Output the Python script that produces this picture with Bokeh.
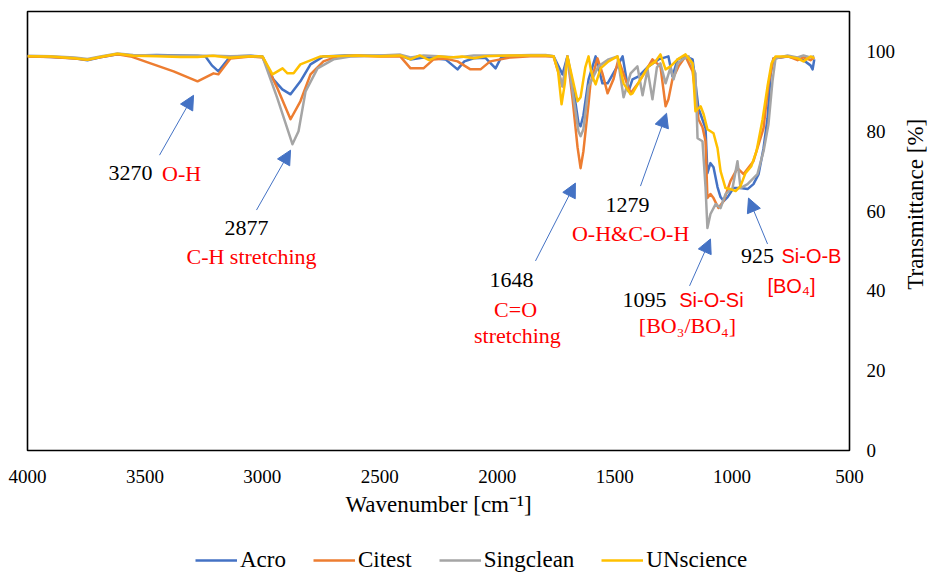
import math
from bokeh.plotting import figure
from bokeh.layouts import column, row
from bokeh.models import (Range1d, FixedTicker, Legend, LegendItem, Arrow,
                          NormalHead, ColumnDataSource)
from bokeh.core.properties import value
from bokeh.embed import file_html
from bokeh.resources import INLINE

# ---------------- data ----------------
acro_wn = [4000, 3900, 3800, 3745, 3690, 3617, 3550, 3450, 3350, 3276, 3242, 3215, 3187, 3160, 3136,
           3050, 2999, 2953, 2915, 2880, 2838, 2795, 2740, 2650, 2500, 2412, 2369, 2314, 2271, 2220,
           2169, 2140, 2100, 2050, 2007, 1985, 1943, 1858, 1794, 1760, 1741, 1722, 1701, 1679, 1654,
           1645, 1633, 1611, 1581, 1552, 1530, 1496, 1466, 1441, 1424, 1398, 1356, 1313, 1271, 1254,
           1232, 1198, 1168, 1143, 1113, 1105, 1092, 1079, 1062, 1049, 1036, 1019, 994, 964, 934,
           909, 887, 866, 849, 836, 824, 764, 721, 696, 666, 657, 650]
acro_t = [98.8, 98.6, 98.3, 97.8, 98.5, 99.3, 99.0, 99.1, 99.0, 98.9, 98.7, 96.5, 95.0, 97.0, 98.75,
          98.9, 98.7, 93.0, 90.5, 89.25, 92.5, 96.75, 98.75, 99.0, 98.9, 98.9, 98.0, 98.5, 98.3, 98.0,
          95.5, 97.5, 98.3, 98.4, 95.75, 98.3, 98.8, 99.0, 98.9, 98.8, 96.5, 94.25, 98.75, 92.0, 82.0,
          81.25, 84.0, 93.0, 98.75, 92.0, 92.0, 95.5, 98.75, 90.0, 93.0, 93.75, 96.25, 98.0, 98.75, 93.75,
          98.0, 98.75, 98.0, 85.75, 80.75, 69.5, 72.0, 71.0, 66.0, 63.5, 62.5, 63.5, 65.75, 65.75, 65.5,
          66.75, 69.25, 75.75, 83.25, 94.25, 98.25, 98.75, 98.3, 97.8, 96.5, 95.5, 98.0]

citest_wn = [4000, 3900, 3800, 3745, 3690, 3617, 3561, 3476, 3378, 3276, 3208, 3187, 3136, 3050, 2999,
             2936, 2880, 2838, 2795, 2740, 2680, 2600, 2500, 2412, 2369, 2314, 2271, 2220, 2169, 2114,
             2071, 2030, 1943, 1858, 1794, 1760, 1741, 1722, 1701, 1679, 1658, 1645, 1633, 1611, 1603,
             1573, 1552, 1530, 1505, 1484, 1454, 1432, 1400, 1369, 1339, 1305, 1283, 1271, 1254, 1228,
             1198, 1168, 1143, 1126, 1113, 1105, 1092, 1079, 1058, 1036, 1007, 977, 951, 909, 866,
             845, 824, 764, 721, 696, 666, 650]
citest_t = [98.7, 98.6, 98.2, 97.9, 98.5, 99.3, 98.75, 97.0, 95.0, 92.5, 94.5, 94.25, 98.25, 98.7, 98.5,
            90.75, 83.0, 87.5, 94.25, 97.5, 98.75, 98.9, 98.7, 98.7, 95.75, 95.75, 98.0, 98.2, 97.5, 95.5,
            95.5, 97.5, 98.5, 98.8, 98.8, 98.7, 95.0, 91.25, 98.75, 88.0, 76.0, 70.75, 75.0, 87.0, 92.0,
            98.25, 94.5, 89.5, 93.0, 98.0, 93.0, 89.5, 92.0, 95.0, 98.0, 96.25, 86.25, 88.0, 93.0, 96.25,
            98.75, 95.0, 83.0, 81.0, 77.5, 63.25, 64.25, 63.25, 60.75, 62.5, 67.5, 70.75, 69.25, 72.5, 80.75,
            91.75, 98.25, 98.8, 97.8, 98.5, 97.8, 98.5]

singclean_wn = [4000, 3900, 3800, 3745, 3690, 3617, 3550, 3450, 3350, 3276, 3200, 3136, 3050, 2999, 2936,
                2872, 2846, 2816, 2765, 2697, 2625, 2500, 2412, 2369, 2314, 2250, 2169, 2100, 1943, 1858,
                1794, 1760, 1741, 1722, 1701, 1679, 1654, 1645, 1633, 1611, 1569, 1526, 1488, 1462, 1432,
                1403, 1381, 1360, 1339, 1320, 1305, 1283, 1262, 1249, 1232, 1211, 1185, 1156, 1147, 1126,
                1113, 1105, 1092, 1070, 1049, 1028, 998, 977, 964, 934, 892, 866, 845, 828, 815,
                764, 721, 696, 666, 650]
singclean_t = [98.9, 98.8, 98.5, 98.1, 98.7, 99.5, 99.1, 99.0, 98.9, 98.9, 98.9, 98.8, 98.9, 98.6, 88.25,
               76.75, 80.0, 90.0, 95.75, 98.0, 98.75, 99.0, 99.2, 98.5, 99.0, 98.8, 98.5, 99.0, 99.0, 99.1,
               99.1, 98.8, 95.5, 91.25, 98.75, 90.0, 80.0, 78.75, 80.5, 91.25, 96.25, 98.0, 98.75, 88.5, 94.5,
               96.25, 89.0, 95.5, 88.0, 96.0, 97.0, 92.0, 96.0, 93.0, 97.0, 98.0, 98.75, 94.5, 78.25, 77.5,
               66.0, 55.75, 59.25, 61.75, 60.75, 64.25, 65.75, 72.5, 65.75, 66.75, 69.25, 75.0, 81.75, 92.5, 98.25,
               99.0, 98.5, 99.0, 98.5, 98.8]

unscience_wn = [4000, 3900, 3800, 3745, 3690, 3617, 3550, 3450, 3350, 3276, 3210, 3140, 3050, 2999, 2957,
                2914, 2893, 2867, 2838, 2752, 2700, 2600, 2500, 2412, 2369, 2330, 2290, 2250, 2200, 2150,
                2100, 2050, 1943, 1858, 1794, 1760, 1741, 1726, 1712, 1701, 1679, 1658, 1645, 1625, 1611,
                1600, 1590, 1581, 1560, 1526, 1488, 1462, 1432, 1424, 1390, 1356, 1326, 1305, 1283, 1262,
                1232, 1198, 1168, 1156, 1134, 1121, 1105, 1079, 1062, 1049, 1028, 1007, 985, 964, 943,
                918, 896, 870, 849, 832, 815, 764, 721, 696, 666, 650]
unscience_t = [98.8, 98.7, 98.3, 97.9, 98.6, 99.4, 98.9, 98.8, 98.6, 98.6, 98.9, 98.4, 98.8, 98.7, 94.25,
               95.75, 94.5, 94.5, 96.75, 98.75, 98.8, 99.0, 98.8, 99.0, 98.0, 99.0, 97.8, 98.8, 98.5, 98.7,
               98.3, 98.8, 99.0, 99.0, 99.0, 98.8, 95.0, 86.75, 92.0, 98.75, 93.0, 87.5, 88.5, 96.0, 98.75,
               95.0, 93.0, 91.75, 95.75, 97.5, 98.75, 92.0, 89.25, 89.5, 93.0, 96.25, 97.5, 99.25, 95.5, 96.25,
               98.0, 99.25, 97.0, 85.0, 86.25, 84.25, 80.5, 79.5, 75.75, 70.0, 65.75, 65.5, 65.0, 66.25, 69.5,
               71.25, 75.0, 83.0, 91.25, 97.0, 98.75, 98.75, 98.25, 97.5, 98.75, 98.3]

series_names = ["Acro", "Citest", "Singclean", "UNscience"]
series_colors = ["#4472C4", "#ED7D31", "#A5A5A5", "#FFC000"]

x_ticks = [4000, 3500, 3000, 2500, 2000, 1500, 1000, 500]
y_ticks = [0, 20, 40, 60, 80, 100]
x_title = "Wavenumber [cm\u207B\u00B9]"
y_title = "Transmittance [%]"

# annotation arrows (data coordinates)
arrow_x0 = [3438, 3025, 1837, 1390, 1181, 849]
arrow_y0 = [74.0, 60.25, 47.5, 66.25, 41.25, 51.75]
arrow_x1 = [3293, 2880, 1667, 1279, 1092, 930]
arrow_y1 = [89.0, 75.25, 67.0, 84.5, 53.0, 63.25]

# annotation texts
black_text = ["3270", "2877", "1648", "1279", "1095", "925"]
black_x = [3561, 3067, 1939, 1445, 1373, 892]
black_y = [69.5, 55.75, 42.75, 61.5, 37.75, 48.75]

red_serif_text = ["O-H", "C-H stretching", "C=O", "stretching", "O-H&C-O-H", "[BO\u2083/BO\u2084]"]
red_serif_x = [3344, 3046, 1922, 1914, 1432, 1190]
red_serif_y = [69.5, 48.5, 35.25, 28.75, 54.25, 31.25]

red_sans_text = ["Si-O-Si", "Si-O-B", "[BO\u2084]"]
red_sans_x = [1088, 662, 747]
red_sans_y = [37.75, 48.75, 41.25]

# ---------------- main figure ----------------
SERIF = "Liberation Serif"
MAIN_H = 525
fig = figure(width=903, height=MAIN_H, output_backend="svg", toolbar_location=None,
             x_range=Range1d(4000, 500), y_range=Range1d(0, 110),
             y_axis_location="right",
             min_border_left=27, min_border_right=54, min_border_top=11, min_border_bottom=75)
fig.grid.visible = False
fig.outline_line_color = "black"
fig.outline_line_width = 1.6
fig.background_fill_color = "white"
fig.border_fill_color = "white"

renderers = []
for wn, t, c in zip([acro_wn, citest_wn, singclean_wn, unscience_wn],
                    [acro_t, citest_t, singclean_t, unscience_t], series_colors):
    r = fig.line(wn, t, line_color=c, line_width=2.5, line_join="round")
    renderers.append(r)

for ax in (fig.xaxis[0], fig.yaxis[0]):
    ax.major_tick_line_color = None
    ax.minor_tick_line_color = None
    ax.major_tick_out = 0
    ax.major_tick_in = 0
    ax.minor_tick_out = 0
    ax.minor_tick_in = 0
    ax.axis_line_color = None
    ax.major_label_text_font = SERIF
    ax.major_label_text_font_size = "19px"
    ax.major_label_text_color = "black"
    ax.axis_label_text_font = SERIF
    ax.axis_label_text_font_size = "23px"
    ax.axis_label_text_font_style = "normal"
    ax.axis_label_text_color = "black"

fig.xaxis.ticker = FixedTicker(ticks=x_ticks)
fig.yaxis.ticker = FixedTicker(ticks=y_ticks)
fig.xaxis.major_label_standoff = 19
fig.xaxis.axis_label = x_title
fig.xaxis.axis_label_standoff = 6
fig.yaxis.major_label_standoff = 17

# arrows
asrc = ColumnDataSource(dict(x0=arrow_x0, y0=arrow_y0, x1=arrow_x1, y1=arrow_y1))
fig.add_layout(Arrow(source=asrc, x_start="x0", y_start="y0", x_end="x1", y_end="y1",
                     line_color="#4472C4", line_width=1,
                     end=NormalHead(size=14, fill_color="#4472C4", line_color="#4472C4")))

# texts
fig.text(black_x, black_y, text=black_text, text_font=value(SERIF), text_font_size="22px",
         text_color="black", text_align="center", text_baseline="middle")
fig.text(red_serif_x, red_serif_y, text=red_serif_text, text_font=value(SERIF), text_font_size="22px",
         text_color="#FF0000", text_align="center", text_baseline="middle")
fig.text(red_sans_x, red_sans_y, text=red_sans_text, text_font=value("Liberation Sans"),
         text_font_size="20px", text_color="#FF0000", text_align="center", text_baseline="middle")

# ---------------- y-axis title strip (reads bottom to top) ----------------
TW = 26
tfig = figure(width=TW, height=MAIN_H, output_backend="svg", toolbar_location=None,
              x_range=Range1d(0, TW), y_range=Range1d(0, MAIN_H),
              x_axis_type=None, y_axis_type=None,
              min_border_left=0, min_border_right=0, min_border_top=0, min_border_bottom=0)
tfig.grid.visible = False
tfig.outline_line_color = None
tfig.text([12], [MAIN_H - 230.5], text=[y_title], angle=math.pi / 2,
          text_font=value(SERIF), text_font_size="23px", text_color="black",
          text_align="center", text_baseline="middle")

# ---------------- legend strip ----------------
leg = figure(width=929, height=573 - MAIN_H, output_backend="svg", toolbar_location=None,
             x_range=Range1d(0, 1), y_range=Range1d(0, 1),
             x_axis_type=None, y_axis_type=None,
             min_border_left=0, min_border_right=0, min_border_top=0, min_border_bottom=0)
leg.grid.visible = False
leg.outline_line_color = None
leg_renderers = [leg.line([-5, -4], [-5, -4], line_color=c, line_width=2.5) for c in series_colors]
legend = Legend(items=[LegendItem(label=n, renderers=[r]) for n, r in zip(series_names, leg_renderers)],
                orientation="horizontal", location=(195, 0),
                glyph_width=42, glyph_height=20, label_standoff=3, spacing=27,
                padding=0, margin=0, border_line_color=None, background_fill_alpha=0,
                label_text_font=SERIF, label_text_font_size="23px", label_text_color="black")
leg.add_layout(legend)

p = column(row(fig, tfig, spacing=0), leg, spacing=0)

open("out.html", "w").write(file_html(p, INLINE))
